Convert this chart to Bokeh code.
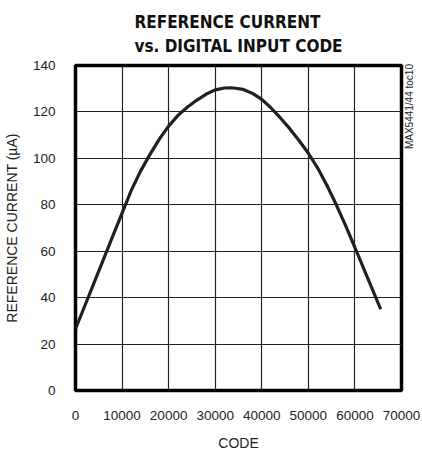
import math
from bokeh.plotting import figure
from bokeh.models import Range1d, FixedTicker, Title, LinearAxis
from bokeh.embed import file_html
from bokeh.resources import INLINE

# Data
code = [0, 2000, 4000, 6000, 8000, 10000, 12000, 14000, 16000, 18000, 20000,
        22000, 24000, 26000, 28000, 30000, 32000, 33300, 34000, 36000, 38000,
        40000, 42000, 44000, 46000, 48000, 50000, 52000, 54000, 56000, 58000,
        60000, 62000, 64000, 65535]
current_ua = [26.5, 36.5, 46.5, 56.5, 66.5, 76.4, 86.3, 94.6, 101.7, 108.3, 113.9,
              118.5, 122.0, 125.0, 127.6, 129.5, 130.3, 130.4, 130.3, 129.7, 128.0,
              125.4, 121.7, 117.4, 112.8, 107.7, 102.2, 95.8, 88.3, 80.0, 71.0,
              61.6, 52.0, 42.4, 35.0]
x_ticks = [0, 10000, 20000, 30000, 40000, 50000, 60000, 70000]
y_ticks = [0, 20, 40, 60, 80, 100, 120, 140]
title_lines = ["REFERENCE CURRENT", "vs. DIGITAL INPUT CODE"]
x_label = "CODE"
y_label = "REFERENCE CURRENT (\u00b5A)"
tag = "MAX5441/44 toc10"
tag_pos = 104  # lower end of the tag, in y data units

TITLE_FONT = "'DejaVu Sans Condensed', 'Liberation Sans', sans-serif"
FONT = "'Liberation Sans', sans-serif"

p = figure(frame_width=326, frame_height=325, output_backend="svg", toolbar_location=None,
           x_range=Range1d(0, 70000), y_range=Range1d(0, 140),
           min_border_left=67, min_border_right=20, min_border_top=58,
           min_border_bottom=57)
p.title = None

t = Title(text="\n".join(title_lines), align="center", text_font=TITLE_FONT,
          text_font_size="17px", text_font_style="bold", text_color="#111111",
          text_line_height=1.2, standoff=19, offset=0)
p.add_layout(t, "above")

p.line(code, current_ua, line_color="#231f20", line_width=3.2)

for ax in (p.xaxis, p.yaxis):
    ax.axis_line_color = None
    ax.major_tick_line_color = None
    ax.minor_tick_line_color = None
    ax.major_label_text_font = FONT
    ax.major_label_text_font_size = "13.5px"
    ax.major_label_text_color = "#222222"
    ax.axis_label_text_font = FONT
    ax.axis_label_text_font_size = "14px"
    ax.axis_label_text_font_style = "normal"
    ax.axis_label_text_color = "#222222"

p.xaxis.ticker = FixedTicker(ticks=x_ticks)
p.yaxis.ticker = FixedTicker(ticks=y_ticks)
p.xaxis.major_label_standoff = 14
p.yaxis.major_label_standoff = 14
p.xaxis.axis_label = x_label
p.yaxis.axis_label = y_label
p.xaxis.axis_label_standoff = 12
p.yaxis.axis_label_standoff = 10

p.xgrid.ticker = FixedTicker(ticks=x_ticks)
p.ygrid.ticker = FixedTicker(ticks=y_ticks)
for g in (p.xgrid, p.ygrid):
    g.grid_line_color = "#222222"
    g.grid_line_width = 1.2

p.outline_line_color = "#000000"
p.outline_line_width = 3.5
p.outline_line_alpha = 1.0

# small vertical tag on the right, carried by an otherwise empty right-side axis
tag_axis = LinearAxis(ticker=FixedTicker(ticks=[tag_pos]),
                      major_label_overrides={tag_pos: tag},
                      major_label_orientation=math.pi / 2,
                      major_label_standoff=2,
                      axis_line_color=None, major_tick_line_color=None,
                      minor_tick_line_color=None,
                      major_label_text_font=FONT, major_label_text_font_size="10px",
                      major_label_text_color="#222222")
p.add_layout(tag_axis, "right")

open("out.html", "w").write(file_html(p, INLINE))
